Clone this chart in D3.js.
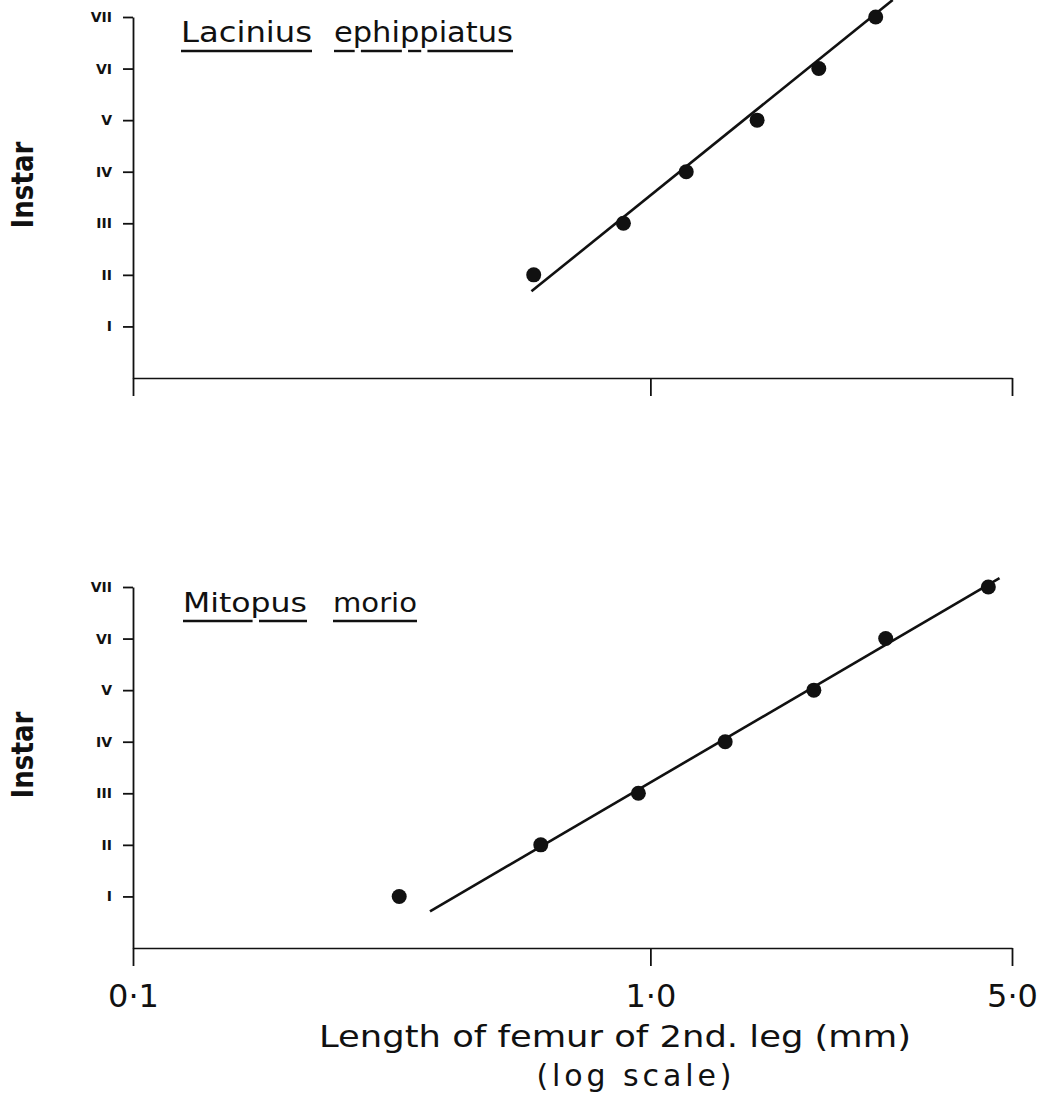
<!DOCTYPE html>
<html>
<head>
<meta charset="utf-8">
<script src="https://cdn.jsdelivr.net/npm/d3@7"></script>
<style>
  body { margin: 0; background: #fff; }
  svg { display: block; }
  text { font-family: "DejaVu Sans", sans-serif; fill: #111; }
</style>
</head>
<body>
<svg id="chart" width="1056" height="1104"></svg>
<script>
// instar numbers and their roman labels
const instars = [1, 2, 3, 4, 5, 6, 7];
const romanLabels = ["I", "II", "III", "IV", "V", "VI", "VII"];
const xTickValues = [0.1, 1.0, 5.0];
const xTickLabels = ["0·1", "1·0", "5·0"];

// Lacinius ephippiatus: femur length (mm) per instar
const laciniusInstar = [2, 3, 4, 5, 6, 7];
const laciniusFemur = [0.595, 0.887, 1.173, 1.608, 2.116, 2.726];
// fitted line ends
const laciniusFitFemur = [0.589, 2.94];
const laciniusFitInstar = [1.68, 7.33];

// Mitopus morio
const mitopusInstar = [1, 2, 3, 4, 5, 6, 7];
const mitopusFemur = [0.327, 0.614, 0.948, 1.395, 2.07, 2.85, 4.50];
const mitopusFitFemur = [0.375, 4.73];
const mitopusFitInstar = [0.71, 7.17];

const svg = d3.select("#chart");

// shared x scale (log)
const x = d3.scaleLog().domain([0.1, 5]).range([133, 1012]);

function drawPanel(top, words, wordX, wordLen, fontSize, showXLabels, instarVals, femurVals, fitFemur, fitInstar) {
    const bottom = top + 361;
    const y = d3.scaleLinear().domain([0, 7]).range([bottom, top]);

    // y axis
    const yAxis = svg.append("g")
        .attr("transform", "translate(133,0)")
        .call(d3.axisLeft(y)
            .tickValues(instars)
            .tickFormat((d, i) => romanLabels[i])
            .tickSize(10)
            .tickSizeOuter(0)
            .tickPadding(11));
    yAxis.select(".domain").attr("stroke", "#111").attr("stroke-width", 1.8);
    yAxis.selectAll(".tick line").attr("stroke", "#111").attr("stroke-width", 1.8);
    yAxis.selectAll(".tick text")
        .style("font-family", "DejaVu Sans, sans-serif")
        .style("font-size", "14px")
        .style("font-weight", "bold")
        .attr("fill", "#111");

    // x axis
    const xAxis = svg.append("g")
        .attr("transform", "translate(0," + bottom + ")")
        .call(d3.axisBottom(x)
            .tickValues(xTickValues)
            .tickFormat((d, i) => showXLabels ? xTickLabels[i] : "")
            .tickSize(18)
            .tickSizeOuter(0)
            .tickPadding(18));
    xAxis.select(".domain").attr("stroke", "#111").attr("stroke-width", 1.6);
    xAxis.selectAll(".tick line").attr("stroke", "#111").attr("stroke-width", 1.8);
    xAxis.selectAll(".tick text")
        .style("font-family", "DejaVu Sans, sans-serif")
        .style("font-size", "32px")
        .attr("fill", "#111");

    // y title
    svg.append("text")
        .attr("transform", "translate(33," + (top + 168) + ") rotate(-90)")
        .attr("text-anchor", "middle")
        .attr("textLength", 87)
        .attr("lengthAdjust", "spacingAndGlyphs")
        .style("font-size", "30px")
        .style("font-weight", "bold")
        .text("Instar");

    // title, each word underlined, small breaks where descenders cross
    words.forEach((w, i) => {
        const t = svg.append("text")
            .attr("x", wordX[i])
            .attr("y", top + 25)
            .attr("textLength", wordLen[i])
            .attr("lengthAdjust", "spacingAndGlyphs")
            .style("font-size", fontSize + "px")
            .text(w);
        const node = t.node();
        const gaps = [];
        for (let c = 0; c < w.length; c++) {
            if ("pq".includes(w[c])) {
                const ext = node.getExtentOfChar(c);
                gaps.push([ext.x + ext.width * 0.1, ext.x + ext.width * 0.42]);
            }
        }
        let start = wordX[i];
        const segs = [];
        gaps.forEach(g => {
            if (g[0] > start) segs.push([start, g[0]]);
            start = g[1];
        });
        segs.push([start, wordX[i] + wordLen[i]]);
        segs.forEach(s => {
            svg.append("line")
                .attr("x1", s[0]).attr("x2", s[1])
                .attr("y1", top + 34).attr("y2", top + 34)
                .attr("stroke", "#111").attr("stroke-width", 2.4);
        });
    });

    // fitted line
    const line = d3.line()
        .x(d => x(d[0]))
        .y(d => y(d[1]));
    svg.append("path")
        .datum(fitFemur.map((f, i) => [f, fitInstar[i]]))
        .attr("fill", "none")
        .attr("stroke", "#111")
        .attr("stroke-width", 2.6)
        .attr("d", line);

    // points
    svg.selectAll(null)
        .data(femurVals.map((f, i) => [f, instarVals[i]]))
        .enter()
        .append("circle")
        .attr("cx", d => x(d[0]))
        .attr("cy", d => y(d[1]))
        .attr("r", 7.5)
        .attr("fill", "#111");
}

drawPanel(17, ["Lacinius", "ephippiatus"], [181, 334], [131, 179], 28, false,
    laciniusInstar, laciniusFemur, laciniusFitFemur, laciniusFitInstar);
drawPanel(587, ["Mitopus", "morio"], [183, 333], [124, 84], 26, true,
    mitopusInstar, mitopusFemur, mitopusFitFemur, mitopusFitInstar);

// x axis title
svg.append("text")
    .attr("x", 615).attr("y", 1047)
    .attr("text-anchor", "middle")
    .attr("textLength", 592)
    .attr("lengthAdjust", "spacingAndGlyphs")
    .style("font-size", "30px")
    .text("Length of femur of 2nd. leg (mm)");
svg.append("text")
    .attr("x", 634).attr("y", 1086)
    .attr("text-anchor", "middle")
    .attr("textLength", 195)
    .attr("lengthAdjust", "spacing")
    .style("font-size", "30px")
    .text("(log scale)");
</script>
</body>
</html>
